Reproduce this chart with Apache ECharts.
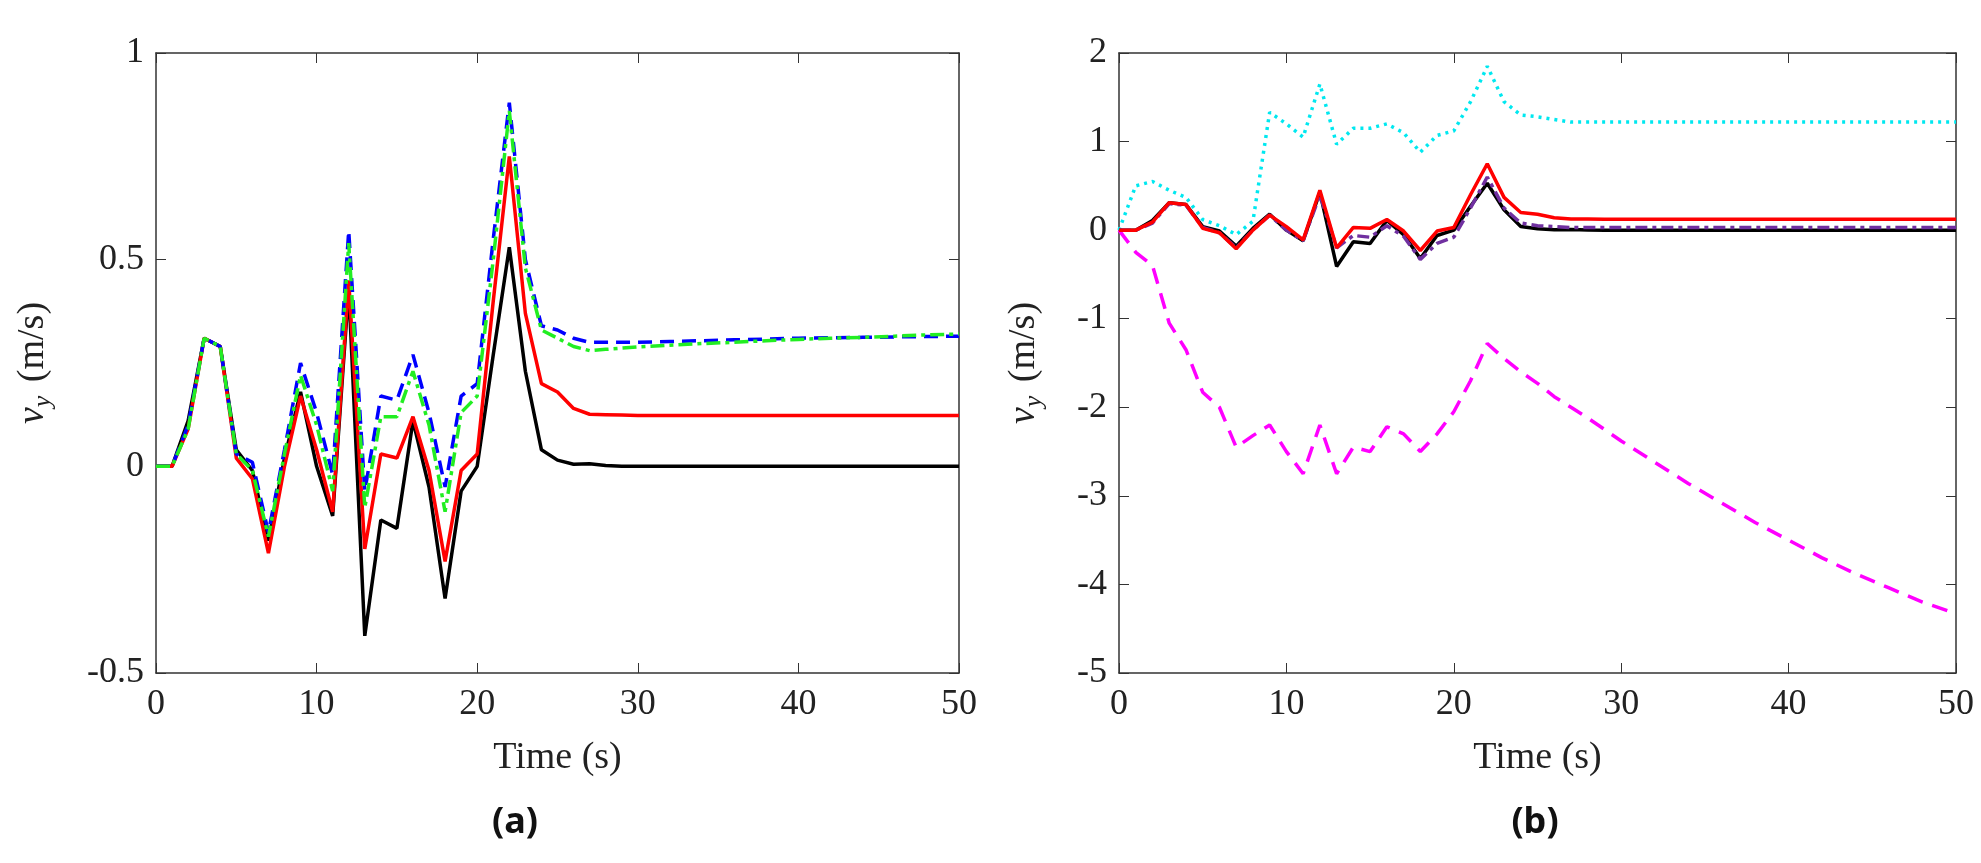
<!DOCTYPE html>
<html>
<head>
<meta charset="utf-8">
<script src="https://cdn.jsdelivr.net/npm/echarts@6/dist/echarts.min.js"></script>
<style>html,body{margin:0;background:#fff}#c{width:1981px;height:863px}</style>
</head>
<body>
<div id="c"></div>
<script>
var myChart = echarts.init(document.getElementById('c'));

// time steps: 0..30 every second, then 32..50 every 2 s
var times = [0,1,2,3,4,5,6,7,8,9,10,11,12,13,14,15,16,17,18,19,20,21,22,23,24,25,26,27,28,29,30,
             32,34,36,38,40,42,44,46,48,50];

// panel (a)
var blackA = [0,0,0.11,0.31,0.29,0.04,-0.01,-0.18,0.02,0.18,0,-0.12,0.43,-0.41,-0.13,-0.15,0.11,-0.05,-0.32,-0.06,0,0.27,0.53,0.23,0.04,0.015,0.005,0.006,0.002,0,0,
              0,0,0,0,0,0,0,0,0,0];
var redA   = [0,0,0.09,0.31,0.29,0.02,-0.03,-0.21,0,0.17,0.04,-0.11,0.45,-0.2,0.03,0.02,0.12,-0.01,-0.23,-0.01,0.03,0.4,0.75,0.37,0.2,0.18,0.14,0.126,0.125,0.124,0.123,
              0.123,0.123,0.123,0.123,0.123,0.123,0.123,0.123,0.123,0.123];
var blueA  = [0,0,0.1,0.31,0.29,0.03,0.01,-0.16,0.04,0.25,0.13,-0.02,0.57,-0.06,0.17,0.16,0.27,0.13,-0.05,0.17,0.2,0.55,0.88,0.5,0.34,0.33,0.31,0.3,0.3,0.3,0.3,
              0.302,0.304,0.306,0.308,0.31,0.311,0.312,0.313,0.314,0.315];
var greenA = [0,0,0.09,0.31,0.29,0.03,-0.01,-0.17,0.03,0.22,0.1,-0.06,0.54,-0.1,0.12,0.12,0.23,0.1,-0.11,0.13,0.17,0.5,0.86,0.48,0.33,0.31,0.29,0.28,0.283,0.286,0.289,
              0.293,0.297,0.3,0.304,0.307,0.31,0.312,0.315,0.318,0.32];

// panel (b)
var cyanB    = [0,0.5,0.55,0.45,0.37,0.12,0.05,-0.05,0.1,1.33,1.2,1.05,1.65,0.97,1.15,1.15,1.2,1.1,0.88,1.07,1.12,1.45,1.85,1.45,1.3,1.28,1.25,1.22,1.22,1.22,1.22,
                1.22,1.22,1.22,1.22,1.22,1.22,1.22,1.22,1.22,1.22];
var magentaB = [0,-0.25,-0.4,-1.05,-1.35,-1.83,-2.0,-2.45,-2.32,-2.2,-2.5,-2.75,-2.2,-2.75,-2.45,-2.5,-2.22,-2.3,-2.5,-2.3,-2.05,-1.7,-1.28,-1.45,-1.6,-1.73,-1.88,-2.0,-2.12,-2.25,-2.38,
                -2.62,-2.86,-3.08,-3.3,-3.5,-3.7,-3.88,-4.04,-4.2,-4.33];
var blackB   = blackA;
var redB     = redA;
var purpleB  = [0,0,0.08,0.3,0.28,0.03,-0.03,-0.2,0,0.17,0,-0.12,0.4,-0.2,-0.06,-0.08,0.05,-0.07,-0.33,-0.15,-0.08,0.25,0.6,0.25,0.08,0.05,0.04,0.03,0.03,0.03,0.03,
                0.03,0.03,0.03,0.03,0.03,0.03,0.03,0.03,0.03,0.03];

function pairs(v) { return times.map(function (t, i) { return [t, v[i]]; }); }

var font = 'Liberation Serif';
var axisColor = '#333';

function xAxes(gi) {
    return [{
        type: 'value', gridIndex: gi, min: 0, max: 50, interval: 10,
        name: 'Time (s)', nameLocation: 'middle', nameGap: 66,
        nameTextStyle: { fontFamily: font, fontSize: 38, color: '#222' },
        axisLine: { onZero: false, lineStyle: { color: axisColor, width: 1.5 } },
        axisTick: { inside: true, length: 10, lineStyle: { color: axisColor } },
        axisLabel: { fontFamily: font, fontSize: 36, color: '#222', margin: 14 },
        splitLine: { show: false }
    }, {
        type: 'value', gridIndex: gi, position: 'top', min: 0, max: 50, interval: 10,
        axisLine: { show: true, onZero: false, lineStyle: { color: axisColor, width: 1.5 } },
        axisTick: { inside: true, length: 10, lineStyle: { color: axisColor } },
        axisLabel: { show: false }, splitLine: { show: false }
    }];
}
function yAxes(gi, min, max, interval, gap) {
    return [{
        type: 'value', gridIndex: gi, min: min, max: max, interval: interval,
        name: '{v|v}{s|y} (m/s)', nameLocation: 'middle', nameGap: gap,
        nameTextStyle: {
            fontFamily: font, fontSize: 38, color: '#222',
            rich: {
                v: { fontFamily: font, fontSize: 38, fontStyle: 'italic', color: '#222' },
                s: { fontFamily: font, fontSize: 26, fontStyle: 'italic', color: '#222', padding: [20, 4, 0, 0] }
            }
        },
        axisLine: { show: true, onZero: false, lineStyle: { color: axisColor, width: 1.5 } },
        axisTick: { inside: true, length: 10, lineStyle: { color: axisColor } },
        axisLabel: { fontFamily: font, fontSize: 36, color: '#222', margin: 12 },
        splitLine: { show: false }
    }, {
        type: 'value', gridIndex: gi, position: 'right', min: min, max: max, interval: interval,
        axisLine: { show: true, onZero: false, lineStyle: { color: axisColor, width: 1.5 } },
        axisTick: { inside: true, length: 10, lineStyle: { color: axisColor } },
        axisLabel: { show: false }, splitLine: { show: false }
    }];
}

function line(name, xi, yi, v, color, type) {
    return {
        name: name, type: 'line', xAxisIndex: xi, yAxisIndex: yi,
        data: pairs(v), showSymbol: false, animation: false,
        lineStyle: { color: color, width: 3.5, type: type }
    };
}

option = {
    backgroundColor: '#fff',
    title: [
        { text: '(a)', left: 510, top: 800, textAlign: 'center',
          textStyle: { fontFamily: 'Noto Sans', fontSize: 36, fontWeight: 'bold', color: '#111' } },
        { text: '(b)', left: 1530, top: 800, textAlign: 'center',
          textStyle: { fontFamily: 'Noto Sans', fontSize: 36, fontWeight: 'bold', color: '#111' } }
    ],
    grid: [
        { left: 156, right: 1022, top: 53, bottom: 190 },
        { left: 1119, right: 25, top: 53, bottom: 190 }
    ],
    xAxis: xAxes(0).concat(xAxes(1)),
    yAxis: yAxes(0, -0.5, 1, 0.5, 100).concat(yAxes(1, -5, 2, 1, 72)),
    series: [
        line('black a', 0, 0, blackA, '#000', 'solid'),
        line('red a', 0, 0, redA, '#ff0000', 'solid'),
        line('blue a', 0, 0, blueA, '#0000ff', [14, 8]),
        line('green a', 0, 0, greenA, '#22ee22', [14, 5, 4, 5]),
        line('cyan b', 2, 2, cyanB, '#00e8f0', [3, 5]),
        line('magenta b', 2, 2, magentaB, '#ff00ff', [16, 10]),
        line('black b', 2, 2, blackB, '#000', 'solid'),
        line('purple b', 2, 2, purpleB, '#7030a0', [12, 5, 4, 5]),
        line('red b', 2, 2, redB, '#ff0000', 'solid')
    ]
};

myChart.setOption(option);
</script>
</body>
</html>
